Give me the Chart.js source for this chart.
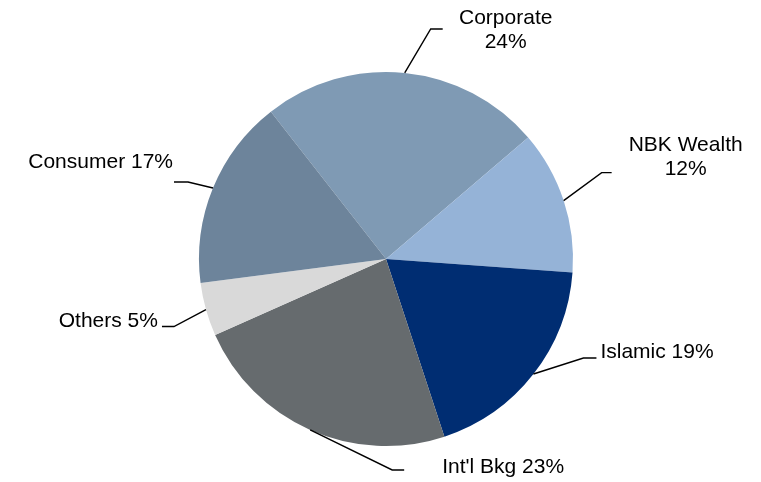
<!DOCTYPE html>
<html>
<head>
<meta charset="utf-8">
<script src="https://cdn.jsdelivr.net/npm/chart.js@4/dist/chart.umd.min.js"></script>
<style>
body{margin:0;background:#fff}
#wrap{width:761px;height:482px}
</style>
</head>
<body>
<div id="wrap"><canvas id="pie" width="761" height="482"></canvas></div>
<script>
// segments, clockwise from upper left (shares, labels show them rounded)
let segments=["Corporate","NBK Wealth","Islamic","Int'l Bkg","Others","Consumer"]
let shares=[24.3,12.4,18.8,23.4,4.6,16.5]
let colours=["#7f9ab4","#95b3d7","#002d72","#666b6e","#d9d9d9","#6d849b"]

// leader line elbow / end and label placement, relative to the slice anchor
let callouts=[
{elbow:[26,-44],end:[38,-44],text:[101,-48.5],align:"center",split:true},
{elbow:[38,-28],end:[48,-28],text:[122,-50],align:"center",split:true},
{elbow:[50,-16],end:[63,-16],text:[67,-16],align:"left"},
{elbow:[82,40],end:[94,40],text:[132,43],align:"left"},
{elbow:[-32,17],end:[-44,17],text:[-48,17],align:"right"},
{elbow:[-25,-6],end:[-39,-6],text:[-40,-20],align:"right"}
]

const calloutPlugin={
id:"callouts",
afterDatasetsDraw(chart){
let ctx=chart.ctx
let arcs=chart.getDatasetMeta(0).data
ctx.save()
ctx.strokeStyle="#000"
ctx.lineWidth=1.4
ctx.fillStyle="#000"
ctx.font="21px 'Liberation Sans', Arial, sans-serif"
ctx.textBaseline="alphabetic"
arcs.forEach(function(arc,i){
let c=callouts[i]
let mid=(arc.startAngle+arc.endAngle)/2
let ax=arc.x+Math.cos(mid)*arc.outerRadius
let ay=arc.y+Math.sin(mid)*arc.outerRadius
ctx.beginPath()
ctx.moveTo(ax,ay)
ctx.lineTo(ax+c.elbow[0],ay+c.elbow[1])
ctx.lineTo(ax+c.end[0],ay+c.end[1])
ctx.stroke()
ctx.textAlign=c.align
let pct=Math.round(shares[i])+"%"
let lines=c.split?[segments[i],pct]:[segments[i]+" "+pct]
lines.forEach(function(t,k){
ctx.fillText(t,ax+c.text[0],ay+c.text[1]+k*24)
})
})
ctx.restore()
}
}

new Chart(document.getElementById("pie"),{
type:"pie",
data:{
labels:segments,
datasets:[{
data:shares,
backgroundColor:colours,
borderWidth:0
}]
},
options:{
responsive:false,
animation:false,
rotation:-38,
layout:{padding:{left:199,right:188,top:72,bottom:36}},
plugins:{legend:{display:false},tooltip:{enabled:false}}
},
plugins:[calloutPlugin]
})
</script>
</body>
</html>
